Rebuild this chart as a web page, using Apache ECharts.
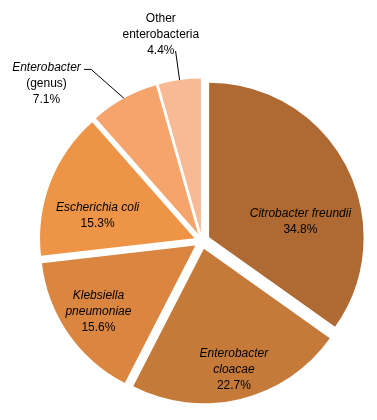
<!DOCTYPE html>
<html>
<head>
<meta charset="utf-8">
<script src="https://cdn.jsdelivr.net/npm/echarts@6/dist/echarts.min.js"></script>
<style>
  html, body { margin: 0; padding: 0; background: #fff; }
  #chart { width: 377px; height: 420px; }
</style>
</head>
<body>
<div id="chart"></div>
<script>
const names = ['Citrobacter freundii', 'Enterobacter cloacae', 'Klebsiella pneumoniae',
  'Escherichia coli', 'Enterobacter (genus)', 'Other enterobacteria']
const shares = [34.8, 22.7, 15.6, 15.3, 7.1, 4.4]
// label lines: italic part (species) and plain part
const italicLines = [['Citrobacter freundii'], ['Enterobacter', 'cloacae'], ['Klebsiella', 'pneumoniae'],
  ['Escherichia coli'], ['Enterobacter'], []]
const plainLines = [[], [], [], [], ['(genus)'], ['Other', 'enterobacteria']]

const colors = ['#AE6A32', '#C57A3A', '#DA8540', '#EE9447', '#F5A46B', '#F8B995']
// label nudges from echarts' own spot
const labelShift = [[20, 21], [11, 43], [-31, 20], [-22, 6], [-58, -21], [-6, -2]]
// leader line legs for the two outside labels
const guideLegs = [null, null, null, null,
  [[-33, -29], [-7, 0]],
  [[-4, -29], [0, 0]]]

function labelText(i) {
  const rows = []
  italicLines[i].forEach((t) => rows.push('{i|' + t + '}'))
  plainLines[i].forEach((t) => rows.push('{n|' + t + '}'))
  rows.push('{n|' + shares[i].toFixed(1) + '%}')
  return rows.join('\n')
}

const chart = echarts.init(document.getElementById('chart'))

chart.setOption({
  animation: false,
  series: [
    {
      type: 'pie',
      center: [202, 241],
      radius: 154.5,
      startAngle: 90,
      clockwise: true,
      selectedMode: 'multiple',
      selectedOffset: 8,
      avoidLabelOverlap: false,
      emphasis: { disabled: true },
      itemStyle: { borderWidth: 0 },
      label: {
        color: '#000',
        fontFamily: 'Liberation Sans, Arial, sans-serif',
        fontSize: 12,
        lineHeight: 16,
        rich: {
          i: { fontStyle: 'italic', fontSize: 12, lineHeight: 16, color: '#000', fontFamily: 'Liberation Sans, Arial, sans-serif' },
          n: { fontSize: 12, lineHeight: 16, color: '#000', fontFamily: 'Liberation Sans, Arial, sans-serif' }
        }
      },
      labelLine: { lineStyle: { color: '#000', width: 1 } },
      data: names.map((n, i) => ({
        name: n,
        value: shares[i],
        selected: true,
        itemStyle: { color: colors[i] },
        label: {
          position: guideLegs[i] ? 'outside' : 'inside',
          formatter: () => labelText(i)
        },
        labelLine: { show: !!guideLegs[i], length: 20, length2: 5 }
      })),
      labelLayout: (params) => {
        const i = params.dataIndex
        const out = {
          dx: labelShift[i][0],
          dy: labelShift[i][1],
          align: 'center',
          verticalAlign: guideLegs[i] ? (i === 4 ? 'top' : 'bottom') : 'middle'
        }
        const legs = guideLegs[i]
        if (legs && params.labelLinePoints) {
          const p0 = params.labelLinePoints[0]
          const p1 = [p0[0] + legs[0][0], p0[1] + legs[0][1]]
          const p2 = [p1[0] + legs[1][0], p1[1] + legs[1][1]]
          out.labelLinePoints = [p0, p1, p2]
        }
        return out
      }
    }
  ]
})

window.addEventListener('resize', () => chart.resize())
</script>
</body>
</html>
